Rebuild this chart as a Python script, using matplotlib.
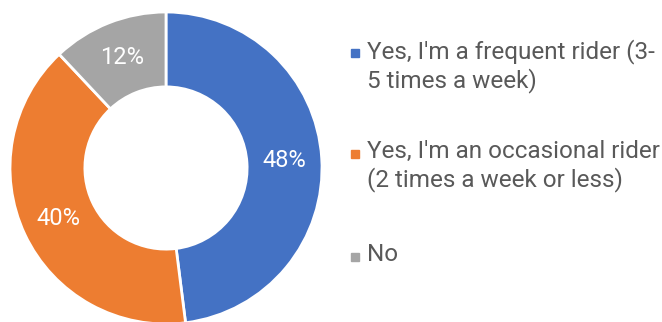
import matplotlib.pyplot as plt
from matplotlib.patches import Rectangle

plt.rcParams['font.family'] = ['Roboto', 'DejaVu Sans']

labels = ["Yes, I'm a frequent rider (3-\n5 times a week)",
          "Yes, I'm an occasional rider\n(2 times a week or less)",
          "No"]
shares = [48, 40, 12]
colors = ['#4472C4', '#ED7D31', '#A5A5A5']

W, H = 662, 322
fig = plt.figure(figsize=(W / 100, H / 100), dpi=100)

# donut axes: centre (166, 168) px, radius 156 px
cx, cy, r = 166, 168, 156
ax = fig.add_axes([(cx - r) / W, (H - cy - r) / H, 2 * r / W, 2 * r / H])
wedges, texts, autotexts = ax.pie(
    shares, colors=colors, startangle=90, counterclock=False,
    autopct='%d%%', pctdistance=0.76,
    wedgeprops=dict(width=0.48, edgecolor='white', linewidth=2),
    textprops=dict(color='white', fontsize=17))
ax.set_xlim(-1, 1)
ax.set_ylim(-1, 1)
ax.set_aspect('equal')
ax.axis('off')

# legend, drawn by hand to match the spacing
marker_y = [53, 154, 257]
for lab, col, my in zip(labels, colors, marker_y):
    fig.patches.append(Rectangle(((355 - 4) / W, (H - my - 4) / H), 8 / W, 8 / H,
                                 transform=fig.transFigure, color=col))
    fig.text(367 / W, 1 - (my - 14) / H, lab, fontsize=17.5, color='#595959',
             va='top', ha='left', linespacing=1.22)

fig.savefig('out.png', dpi=100)
